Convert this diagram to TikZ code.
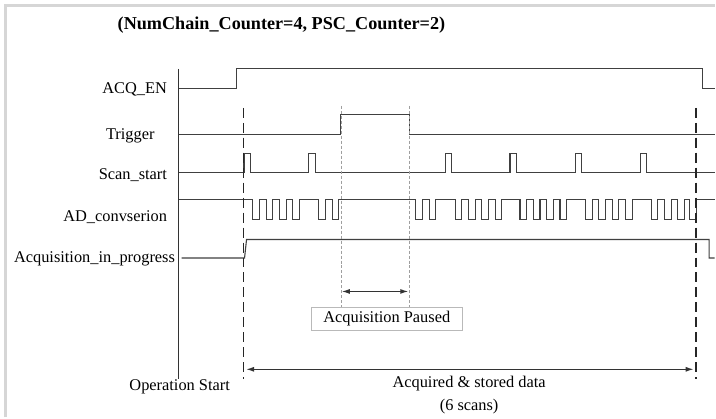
\documentclass[tikz,border=0pt]{standalone}
\usepackage{fontspec}
\setmainfont{Liberation Serif}
\usepackage{tikz}
\usetikzlibrary{
    arrows.meta,
    positioning
}
\newcommand{\sigfont}{\fontsize{16.4}{23}\selectfont}

\begin{document}
\begin{tikzpicture}[
    x=1pt, y=-1pt,
    sig/.style={
        draw=black!75,
        line width=1.1pt
    },
    siglabel/.style={
        anchor=east,
        inner sep=0pt,
        font=\sigfont
    },
    boundary/.style={
        draw=black!85,
        line width=1.4pt,
        dash pattern=on 10pt off 5pt
    },
    pauseline/.style={
        draw=gray!75,
        line width=0.5pt,
        dash pattern=on 3pt off 2pt
    },
    span/.style={{Latex[length=8pt,width=5pt]}-{Latex[length=8pt,width=5pt]}, draw=black!80}
]

% Fondo y marco
\fill[white] (0,0) rectangle (716,418);
\draw[black!16, line width=2.7pt] (5.3,418) -- (5.3,5.3) -- (716,5.3);
\useasboundingbox (0,0) rectangle (716,418);

% Titulo
\node[font=\fontsize{18.2}{22}\selectfont\bfseries] (title) at (282,25) {(NumChain\_Counter=4, PSC\_Counter=2)};

% Nombres de las senales
\node[siglabel] (acqen) at (167.5,90) {ACQ\_EN};
\node[font=\sigfont, inner sep=0pt] (trigger) at (130.5,136) {Trigger};
\node[siglabel] (scanstart) at (167.5,175) {Scan\_start};
\node[siglabel] (adconv) at (167.5,218) {AD\_convserion};
\node[siglabel] (inprogress) at (175.5,259) {Acquisition\_in\_progress};

% Eje de tiempo
\draw[black!80, line width=1.4pt] (179,69) -- (179,380);

% Senales
\draw[sig] (179,89) -- (236.5,89) -- (236.5,69) -- (704,69) -- (704,89) -- (716,89);
\draw[sig] (179,135) -- (341.5,135) -- (341.5,115) -- (410,115) -- (410,135) -- (716,135);
\draw[sig] (179,173)
    foreach \t in {244.5,309.5,446,511,576.5,641.5} { -- (\t,173) -- (\t,154) -- ++(6.5,0) -- ++(0,19) }
    -- (716,173);
\draw[sig] (179,200)
    foreach \t in {253.3,266.7,280,293.3,319.3,332.7,416.7,430,456,469.3,482.7,496,521,534.3,547.7,561,586.7,600,613.3,626.7,652.3,665.7,679,690.7} { -- (\t,200) -- (\t,220) -- ++(6.7,0) -- ++(0,-20) }
    -- (716,200);
\draw[sig] (182,258.5) -- (245,258.5) -- (247,240) -- (710.5,240) -- (710.5,258.5) -- (716,258.5);

% Pausa de adquisicion
\node[draw=gray!55, line width=0.8pt, minimum width=151.6pt, minimum height=23.3pt, inner sep=0pt, font=\sigfont] (paused) at (387.5,319.3) {Acquisition Paused};
\coordinate (pauseL) at (341.5,106);
\coordinate (pauseR) at (410,106);
\draw[pauseline] (pauseL) -- (pauseL |- paused.north);
\draw[pauseline] (pauseR) -- (pauseR |- paused.north);
\coordinate (pauseArrowL) at (342.5,292);
\coordinate (pauseArrowR) at (409,292);
\draw[span, line width=1.1pt] (pauseArrowL) -- (pauseArrowR);

% Limites de la adquisicion
\coordinate (startTop) at (244,108);
\coordinate (startBot) at (244,380);
\coordinate (stopTop) at (697.5,108);
\coordinate (stopBot) at (697.5,380);
\draw[boundary] (startTop) -- (startBot);
\draw[boundary] (stopTop) -- (stopBot);
\coordinate (dataL) at (246.5,370);
\coordinate (dataR) at (695,370);
\draw[span, line width=1.3pt] (dataL) -- (dataR);

% Textos inferiores
\node[font=\sigfont, inner sep=0pt] (opstart) at (180,388) {Operation Start};
\node[font=\sigfont, inner sep=0pt, align=center] (stored) at (470,396) {Acquired \& stored data\\(6 scans)};

\end{tikzpicture}
\end{document}
